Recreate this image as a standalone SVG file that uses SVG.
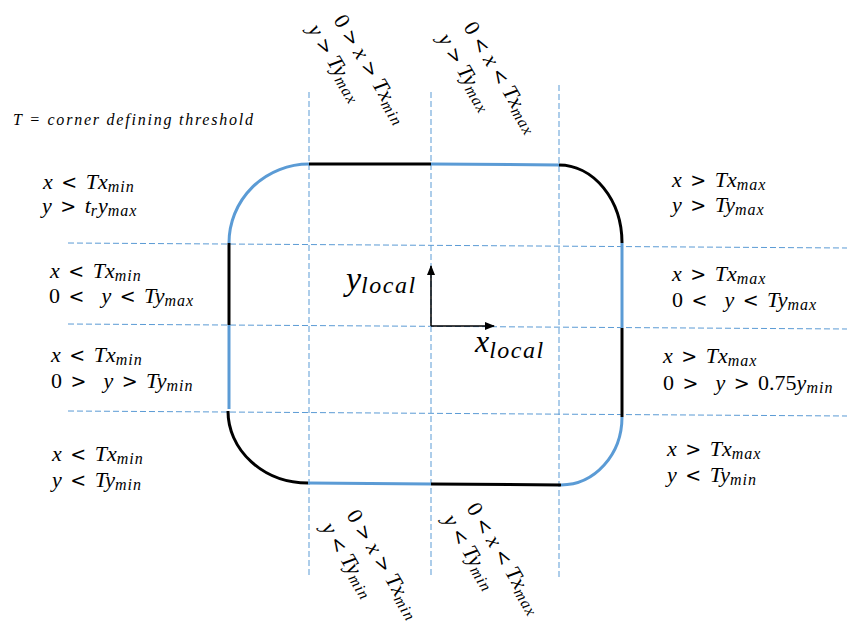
<svg xmlns="http://www.w3.org/2000/svg" width="847" height="631" viewBox="0 0 847 631">
<style>
.grid{stroke:#5b9bd5;stroke-width:1;stroke-dasharray:6 3;fill:none}
.bk{stroke:#000;stroke-width:3;fill:none}
.bl{stroke:#5b9bd5;stroke-width:3;fill:none}
.m{font-family:"Liberation Serif",serif;font-style:italic;font-size:22px;word-spacing:3px;fill:#000}
.r{word-spacing:0px}
.s{font-size:16px;letter-spacing:1px}
.u{font-style:normal}
.o{font-family:"DejaVu Sans",sans-serif;font-style:normal;font-size:19px}
.ax{stroke:#000;stroke-width:1.5;fill:none}
.note{font-family:"Liberation Serif",serif;font-style:italic;font-size:16px;fill:#000}
</style>
<defs>
<marker id="ah" markerWidth="10" markerHeight="8" refX="9" refY="4" orient="auto" markerUnits="userSpaceOnUse"><path d="M0,0 L10,4 L0,8 z" fill="#000"/></marker>
</defs>
<rect width="847" height="631" fill="#fff"/>
<g id="grid">
<line class="grid" x1="309" y1="92" x2="309" y2="578"/>
<line class="grid" x1="431" y1="92" x2="431" y2="578"/>
<line class="grid" x1="559" y1="85" x2="559" y2="578"/>
<line class="grid" x1="68" y1="243" x2="847" y2="248"/>
<line class="grid" x1="68" y1="324" x2="847" y2="329"/>
<line class="grid" x1="68" y1="411" x2="847" y2="416"/>
</g>
<g id="outline">
<path class="bl" d="M229,243 A80,79 0 0 1 309,164"/>
<path class="bk" d="M309,164 L431,164"/>
<path class="bl" d="M431,164 L559,165"/>
<path class="bk" d="M559,165 A63,78 0 0 1 622,243"/>
<path class="bl" d="M622,243 L622,328"/>
<path class="bk" d="M622,328 L622,417"/>
<path class="bl" d="M622,417 A61,68 0 0 1 561,485"/>
<path class="bk" d="M561,485 L431,484"/>
<path class="bl" d="M431,484 L308,483"/>
<path class="bk" d="M308,483 A80,72 0 0 1 228,411"/>
<path class="bl" d="M229,409 L229,325"/>
<path class="bk" d="M229,325 L229,243"/>
</g>
<g id="axes">
<line class="ax" x1="431" y1="326" x2="431" y2="266" marker-end="url(#ah)"/>
<line class="ax" x1="431" y1="326" x2="494" y2="326" marker-end="url(#ah)"/>
<text class="m" x="346" y="290" style="font-size:34px">y<tspan style="font-size:24px;letter-spacing:1.5px" dy="3">local</tspan></text>
<text class="m" x="475" y="352" style="font-size:32px">x<tspan style="font-size:24px;letter-spacing:1.5px" dy="6">local</tspan></text>
</g>
<g id="note">
<text class="note" x="13" y="125" textLength="240" lengthAdjust="spacing">T = corner defining threshold</text>
</g>
<g id="left-labels">
<text class="m" x="43" y="189">x <tspan class="o">&lt;</tspan> Tx<tspan class="s" dy="3">min</tspan></text>
<text class="m" x="42" y="213">y <tspan class="o">&gt;</tspan> t<tspan class="s" dy="3">r</tspan><tspan dy="-3">y</tspan><tspan class="s" dy="3">max</tspan></text>
<text class="m" x="50" y="278">x <tspan class="o">&lt;</tspan> Tx<tspan class="s" dy="3">min</tspan></text>
<text class="m" x="49" y="303"><tspan class="u">0</tspan> <tspan class="o">&lt;</tspan>&#160; y <tspan class="o">&lt;</tspan> Ty<tspan class="s" dy="3">max</tspan></text>
<text class="m" x="51" y="362">x <tspan class="o">&lt;</tspan> Tx<tspan class="s" dy="3">min</tspan></text>
<text class="m" x="51" y="388"><tspan class="u">0</tspan> <tspan class="o">&gt;</tspan>&#160; y <tspan class="o">&gt;</tspan> Ty<tspan class="s" dy="3">min</tspan></text>
<text class="m" x="52" y="461">x <tspan class="o">&lt;</tspan> Tx<tspan class="s" dy="3">min</tspan></text>
<text class="m" x="52" y="487">y <tspan class="o">&lt;</tspan> Ty<tspan class="s" dy="3">min</tspan></text>
</g>
<g id="right-labels">
<text class="m" x="672" y="187">x <tspan class="o">&gt;</tspan> Tx<tspan class="s" dy="3">max</tspan></text>
<text class="m" x="672" y="212">y <tspan class="o">&gt;</tspan> Ty<tspan class="s" dy="3">max</tspan></text>
<text class="m" x="672" y="281">x <tspan class="o">&gt;</tspan> Tx<tspan class="s" dy="3">max</tspan></text>
<text class="m" x="672" y="307"><tspan class="u">0</tspan> <tspan class="o">&lt;</tspan>&#160; y <tspan class="o">&lt;</tspan> Ty<tspan class="s" dy="3">max</tspan></text>
<text class="m" x="663" y="363">x <tspan class="o">&gt;</tspan> Tx<tspan class="s" dy="3">max</tspan></text>
<text class="m" x="663" y="390"><tspan class="u">0</tspan> <tspan class="o">&gt;</tspan>&#160; y <tspan class="o">&gt;</tspan> <tspan class="u">0.75</tspan>y<tspan class="s" dy="3">min</tspan></text>
<text class="m" x="667" y="456">x <tspan class="o">&gt;</tspan> Tx<tspan class="s" dy="3">max</tspan></text>
<text class="m" x="667" y="482">y <tspan class="o">&lt;</tspan> Ty<tspan class="s" dy="3">min</tspan></text>
</g>
<g id="top-labels">
<g transform="translate(333,20) rotate(59)">
<text class="m r" x="0" y="0"><tspan class="u">0</tspan> <tspan class="o">&gt;</tspan> x <tspan class="o">&gt;</tspan> Tx<tspan class="s" dy="3">min</tspan></text>
<text class="m r" x="-5" y="27">y <tspan class="o">&gt;</tspan> Ty<tspan class="s" dy="3">max</tspan></text>
</g>
<g transform="translate(463,27) rotate(59)">
<text class="m r" x="0" y="0"><tspan class="u">0</tspan> <tspan class="o">&lt;</tspan> x <tspan class="o">&lt;</tspan> Tx<tspan class="s" dy="3">max</tspan></text>
<text class="m r" x="-3" y="28">y <tspan class="o">&gt;</tspan> Ty<tspan class="s" dy="3">max</tspan></text>
</g>
</g>
<g id="bottom-labels">
<g transform="translate(346,515) rotate(59)">
<text class="m r" x="0" y="0"><tspan class="u">0</tspan> <tspan class="o">&gt;</tspan> x <tspan class="o">&gt;</tspan> Tx<tspan class="s" dy="3">min</tspan></text>
<text class="m r" x="-2" y="28">y <tspan class="o">&lt;</tspan> Ty<tspan class="s" dy="3">min</tspan></text>
</g>
<g transform="translate(466,508) rotate(59)">
<text class="m r" x="0" y="0"><tspan class="u">0</tspan> <tspan class="o">&lt;</tspan> x <tspan class="o">&lt;</tspan> Tx<tspan class="s" dy="3">max</tspan></text>
<text class="m r" x="-2" y="26">y <tspan class="o">&lt;</tspan> Ty<tspan class="s" dy="3">min</tspan></text>
</g>
</g>
</svg>
